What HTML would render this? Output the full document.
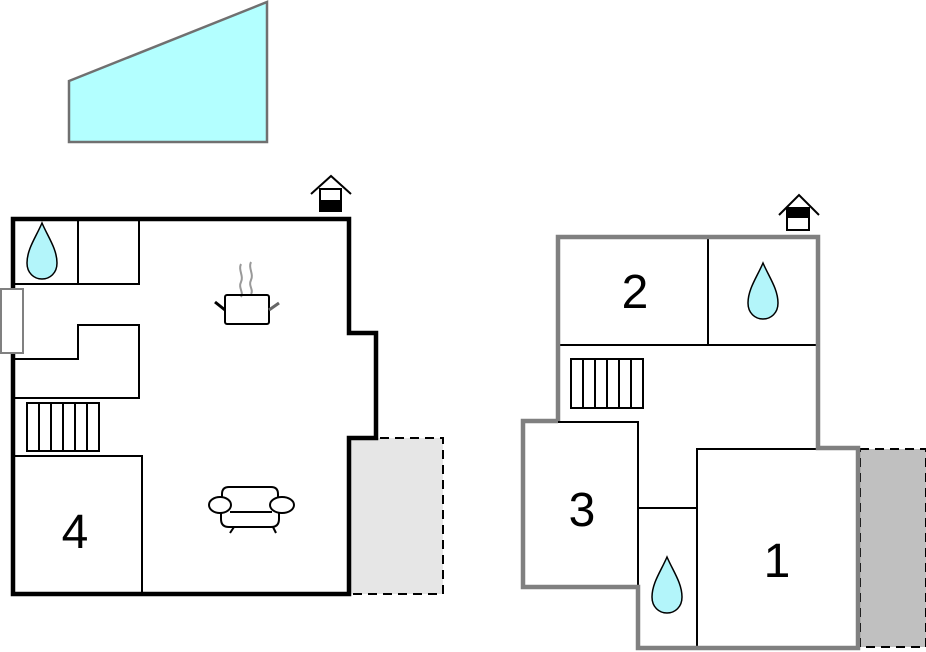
<!DOCTYPE html>
<html><head><meta charset="utf-8"><style>html,body{margin:0;padding:0;background:#fff}svg{display:block}</style></head>
<body>
<svg width="926" height="652" viewBox="0 0 926 652" xmlns="http://www.w3.org/2000/svg" font-family="Liberation Sans, sans-serif">
<defs>
<g id="drop"><path d="M0,-28 C-6,-14 -15,-2 -15,12 C-15,22 -8,28 0,28 C8,28 15,22 15,12 C15,-2 6,-14 0,-28 Z" fill="#b3f5fa" stroke="#000" stroke-width="1.5"/></g>
</defs>
<!-- pool -->
<polygon points="69,81 267,2 267,142 69,142" fill="#b3ffff" stroke="#707070" stroke-width="2.5"/>

<!-- LEFT PLAN -->
<rect x="350" y="438" width="93" height="156" fill="#e6e6e6" stroke="#000" stroke-width="2" stroke-dasharray="9,6"/>
<rect x="1" y="289" width="22" height="64" fill="#fff" stroke="#808080" stroke-width="2"/>
<g fill="none" stroke="#000" stroke-width="2">
<rect x="13" y="219" width="126" height="65"/>
<line x1="78" y1="219" x2="78" y2="284"/>
<polyline points="13,359 78,359 78,325 139,325 139,398 13,398"/>
<rect x="27" y="403" width="72" height="48"/>
<line x1="39" y1="403" x2="39" y2="451"/><line x1="51" y1="403" x2="51" y2="451"/><line x1="63" y1="403" x2="63" y2="451"/><line x1="75" y1="403" x2="75" y2="451"/><line x1="87" y1="403" x2="87" y2="451"/>
<polyline points="13,456 142,456 142,594"/>
</g>
<polygon points="13,219 349,219 349,333 376,333 376,438 349,438 349,594 13,594" fill="none" stroke="#000" stroke-width="4.5"/>
<rect x="0" y="289" width="12" height="64" fill="#fff"/>
<rect x="1" y="289" width="22" height="64" fill="#fff" stroke="#808080" stroke-width="2"/>
<use href="#drop" x="42" y="251" transform=""/>
<text x="75" y="548" font-size="48" text-anchor="middle">4</text>
<!-- pot -->
<g stroke-width="2" fill="none">
<path d="M241,264 c-3,6 3,12 0,18 c-3,6 3,10 0,15" stroke="#999"/>
<path d="M251,262 c-3,6 3,12 0,18 c-3,6 3,10 0,14" stroke="#999"/>
<rect x="225" y="295" width="44" height="29" rx="2" stroke="#000"/>
<line x1="215" y1="302" x2="225" y2="310" stroke="#000" stroke-width="3"/>
<line x1="269" y1="310" x2="279" y2="303" stroke="#666" stroke-width="3"/>
</g>
<!-- sofa -->
<g fill="#fff" stroke="#000" stroke-width="2">
<path d="M222,500 v-6 q0,-7 7,-7 h42 q7,0 7,7 v6"/>
<path d="M221,512 v7 q0,8 8,8 h42 q8,0 8,-8 v-7"/>
<line x1="230" y1="512" x2="272" y2="512"/>
<ellipse cx="220" cy="505" rx="11" ry="8"/>
<ellipse cx="282" cy="505" rx="12" ry="8"/>
<line x1="234" y1="527" x2="230" y2="533"/><line x1="273" y1="527" x2="276" y2="533"/>
</g>
<!-- chimney left -->
<g stroke="#000" stroke-width="2" fill="none"><polyline points="311,194 331,176 351,194"/><rect x="320" y="189" width="21" height="21" fill="#fff"/></g>
<rect x="319" y="200" width="23" height="12" fill="#000"/>

<!-- RIGHT PLAN -->
<rect x="860" y="449" width="66" height="198" fill="#c0c0c0" stroke="#000" stroke-width="2" stroke-dasharray="9,6"/>
<g fill="none" stroke="#000" stroke-width="2">
<line x1="558" y1="345" x2="818" y2="345"/>
<line x1="708" y1="237" x2="708" y2="345"/>
<rect x="571" y="359" width="72" height="49"/>
<line x1="583" y1="359" x2="583" y2="408"/><line x1="595" y1="359" x2="595" y2="408"/><line x1="607" y1="359" x2="607" y2="408"/><line x1="619" y1="359" x2="619" y2="408"/><line x1="631" y1="359" x2="631" y2="408"/>
<polyline points="558,422 638,422 638,587"/>
<rect x="697" y="449" width="161" height="198"/>
<line x1="638" y1="508" x2="697" y2="508"/>
</g>
<g fill="none" stroke="#808080" stroke-width="4.5">
<polyline points="558,421 558,237 818,237 818,448 858,448 858,648 638,648 638,587 523,587 523,421 558,421"/>
</g>
<text x="635" y="308" font-size="48" text-anchor="middle">2</text>
<text x="582" y="526" font-size="48" text-anchor="middle">3</text>
<text x="777" y="577" font-size="48" text-anchor="middle">1</text>
<use href="#drop" x="763" y="291"/>
<use href="#drop" x="667" y="585"/>
<!-- chimney right -->
<g stroke="#000" stroke-width="2" fill="none"><polyline points="779,215 799,195 819,215"/><rect x="787" y="208" width="22" height="22" fill="#fff"/></g>
<rect x="786" y="207" width="24" height="11" fill="#000"/>
</svg>
</body></html>
